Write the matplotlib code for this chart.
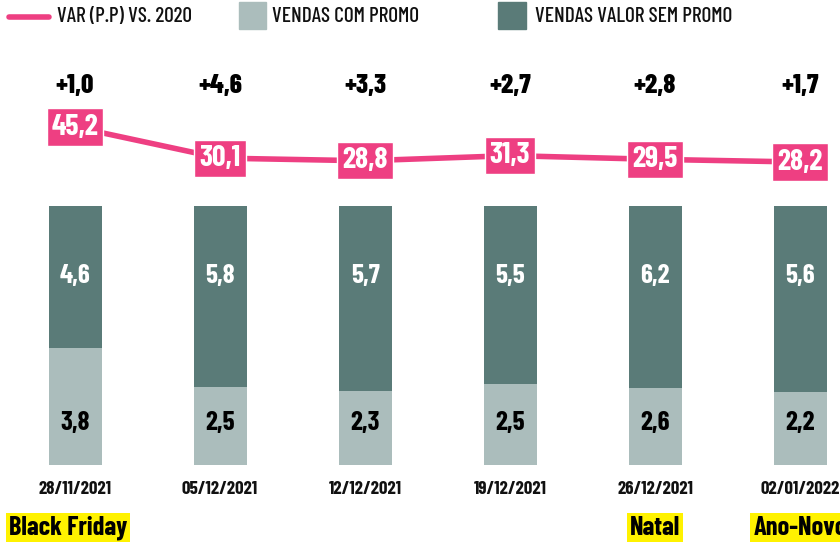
import matplotlib
matplotlib.use("Agg")
import matplotlib.pyplot as plt
from matplotlib.patches import Rectangle
from matplotlib.lines import Line2D
from matplotlib import transforms

# data
datas = ["28/11/2021", "05/12/2021", "12/12/2021", "19/12/2021", "26/12/2021", "02/01/2022"]
eventos = ["Black Friday", "", "", "", "Natal", "Ano-Novo"]
com_promo = [3.8, 2.5, 2.3, 2.5, 2.6, 2.2]
sem_promo = [4.6, 5.8, 5.7, 5.5, 6.2, 5.6]
share_promo = [45.2, 30.1, 28.8, 31.3, 29.5, 28.2]
var_pp = ["+1,0", "+4,6", "+3,3", "+2,7", "+2,8", "+1,7"]

PINK = "#EE3F82"
DARK = "#5A7B78"
LIGHT = "#ABBDBC"
YELLOW = "#FFF200"
FONT = ["Barlow Condensed", "DejaVu Sans"]

def fmt(v):
    return ("%.1f" % v).replace(".", ",")

W, H = 840, 542
fig = plt.figure(figsize=(W / 100, H / 100), dpi=100)

x = list(range(len(datas)))
xl = ((0 - 75) / 145, (840 - 75) / 145)

# bars axes (px 206..465)
ax = fig.add_axes([0, (H - 465) / H, 1, 259 / H])
ax.set_xlim(xl)
ax.set_ylim(0, 1)
ax.axis("off")
tot = [a + b for a, b in zip(com_promo, sem_promo)]
low = [a / t for a, t in zip(com_promo, tot)]
high = [b / t for b, t in zip(sem_promo, tot)]
ax.bar(x, low, width=53 / 145, color=LIGHT)
ax.bar(x, high, bottom=low, width=53 / 145, color=DARK)

tr = transforms.blended_transform_factory(ax.transData, ax.transAxes)
for i in x:
    ax.text(i, (465 - 276) / 259, fmt(sem_promo[i]), transform=tr, ha="center", va="center",
            color="white", fontsize=19.5, fontweight="bold", family=FONT)
    ax.text(i, (465 - 423) / 259, fmt(com_promo[i]), transform=tr, ha="center", va="center",
            color="black", fontsize=19.5, fontweight="bold", family=FONT)
    ax.text(i, (465 - 490) / 259, datas[i], transform=tr, ha="center", va="center",
            color="#111111", fontsize=13.5, fontweight="bold", family=FONT, clip_on=False)
    if eventos[i]:
        dx = -5 if i == 0 else 0
        ax.annotate(eventos[i], (i, (465 - 528) / 259), xycoords=tr,
                    xytext=(dx, 0), textcoords="offset points", ha="center", va="center",
                    color="black", fontsize=19, fontweight="bold", family=FONT,
                    annotation_clip=False,
                    bbox=dict(boxstyle="square,pad=0.12", fc=YELLOW, ec="none"))

# line axes (px 60..200)
lax = fig.add_axes([0, (H - 200) / H, 1, 140 / H])
lax.set_xlim(xl)
k = 2.06
lax.set_ylim(45.2 - (200 - 127) / k, 45.2 + (127 - 60) / k)
lax.axis("off")
lax.plot(x, share_promo, color=PINK, lw=4, solid_capstyle="butt", zorder=1)
ltr = transforms.blended_transform_factory(lax.transData, lax.transAxes)
for i in x:
    lax.text(i, share_promo[i], fmt(share_promo[i]), ha="center", va="center", color="white",
             fontsize=21.5, fontweight="bold", family=FONT, zorder=3,
             bbox=dict(boxstyle="square,pad=0.17", fc=PINK, ec="white", lw=1))
    lax.text(i, (200 - 86) / 140, var_pp[i], transform=ltr, ha="center", va="center",
             color="black", fontsize=19.5, fontweight="heavy", family=FONT)

# legend
fig.add_artist(Line2D([9 / W, 49 / W], [(H - 17) / H] * 2, color=PINK, lw=4,
                      solid_capstyle="round"))
fig.text(57 / W, (H - 16) / H, "VAR (P.P) VS. 2020", ha="left", va="center", fontsize=15.3,
         fontweight="medium", family=FONT, color="#111111")
fig.add_artist(Rectangle((239 / W, (H - 29) / H), 27 / W, 27 / H, color=LIGHT))
fig.text(272 / W, (H - 16) / H, "VENDAS COM PROMO", ha="left", va="center", fontsize=15.3,
         fontweight="medium", family=FONT, color="#111111")
fig.add_artist(Rectangle((498 / W, (H - 29) / H), 28 / W, 27 / H, color=DARK))
fig.text(535 / W, (H - 16) / H, "VENDAS VALOR SEM PROMO", ha="left", va="center", fontsize=15.3,
         fontweight="medium", family=FONT, color="#111111")

fig.savefig("out.png", dpi=100, facecolor="white")
